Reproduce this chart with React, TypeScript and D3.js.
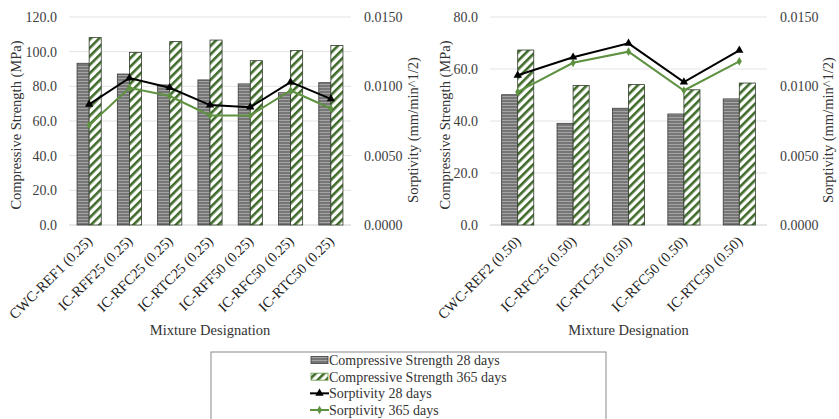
import React, { useEffect, useRef } from 'react'
import * as d3 from 'd3'

// left panel (w/c 0.25)
const catsA = ['CWC-REF1 (0.25)', 'IC-RFF25 (0.25)', 'IC-RFC25 (0.25)', 'IC-RTC25 (0.25)', 'IC-RFF50 (0.25)', 'IC-RFC50 (0.25)', 'IC-RTC50 (0.25)']
const cs28A = [93.3, 87.1, 80.8, 83.7, 81.4, 76.3, 82.1]
const cs365A = [108.1, 99.6, 105.8, 106.7, 94.8, 100.6, 103.6]
const sor28A = [0.0087, 0.0106, 0.0099, 0.00865, 0.0085, 0.0103, 0.0091]
const sor365A = [0.0072, 0.0099, 0.0093, 0.0079, 0.0079, 0.0097, 0.0084]
const ticksA = [0, 20, 40, 60, 80, 100, 120]

// right panel (w/c 0.50)
const catsB = ['CWC-REF2 (0.50)', 'IC-RFC25 (0.50)', 'IC-RTC25 (0.50)', 'IC-RFC50 (0.50)', 'IC-RTC50 (0.50)']
const cs28B = [50.1, 39.1, 44.9, 42.7, 48.5]
const cs365B = [67.3, 53.7, 54.0, 52.0, 54.6]
const sor28B = [0.0108, 0.0121, 0.0131, 0.0103, 0.0126]
const sor365B = [0.0096, 0.0117, 0.0125, 0.0097, 0.0118]
const ticksB = [0, 20, 40, 60, 80]

const sorTicks = [0, 0.005, 0.01, 0.015]
const legendItems = ['Compressive Strength 28 days', 'Compressive Strength 365 days', 'Sorptivity 28 days', 'Sorptivity 365 days']

const FONT = 'Liberation Serif, DejaVu Serif, serif'
const GREEN = '#5e9140'
const HATCH = '#3f6b2a'

function drawPanel(svg, o) {
  const g = svg.append('g')
  const x = d3.scaleBand().domain(o.cats).range([o.x0, o.x1]).paddingInner(o.pad).paddingOuter(o.pad / 2)
  const sub = d3.scaleBand().domain(['a', 'b']).range([0, x.bandwidth()])
  const y = d3.scaleLinear().domain([0, d3.max(o.ticks)]).range([225, 17])
  const y2 = d3.scaleLinear().domain([0, 0.015]).range([225, 17])

  // grid
  g.selectAll('.grid').data(o.ticks).join('line')
    .attr('x1', o.x0).attr('x2', o.x1)
    .attr('y1', d => y(d)).attr('y2', d => y(d))
    .attr('stroke', d => d === 0 ? '#cfcfcf' : '#e3e3e3').attr('stroke-width', 1)

  g.selectAll('.tl').data(o.ticks).join('text')
    .attr('x', o.x0 - 12).attr('y', d => y(d)).attr('dy', '0.35em')
    .attr('text-anchor', 'end').attr('font-size', 14).attr('fill', '#404040')
    .text(d => d.toFixed(1))

  g.selectAll('.tr').data(sorTicks).join('text')
    .attr('x', o.x1 + 13).attr('y', d => y2(d)).attr('dy', '0.35em')
    .attr('font-size', 14).attr('fill', '#404040')
    .text(d => d.toFixed(4))

  // bars
  g.selectAll('.b28').data(o.cs28).join('rect')
    .attr('x', (d, i) => x(o.cats[i]) + sub('a')).attr('width', sub.bandwidth())
    .attr('y', d => y(d)).attr('height', d => y(0) - y(d))
    .attr('fill', 'url(#hstripe)').attr('stroke', '#3a3a3a').attr('stroke-width', 0.8)
  g.selectAll('.b365').data(o.cs365).join('rect')
    .attr('x', (d, i) => x(o.cats[i]) + sub('b')).attr('width', sub.bandwidth())
    .attr('y', d => y(d)).attr('height', d => y(0) - y(d))
    .attr('fill', 'url(#dstripe)').attr('stroke', '#2f3a2a').attr('stroke-width', 0.8)

  const cx = i => x(o.cats[i]) + x.bandwidth() / 2
  const line = d3.line().x((d, i) => cx(i)).y(d => y2(d))

  g.append('path').datum(o.sor365).attr('d', line).attr('fill', 'none').attr('stroke', GREEN).attr('stroke-width', 2)
  g.selectAll('.m365').data(o.sor365).join('path')
    .attr('transform', (d, i) => `translate(${cx(i)},${y2(d)})`)
    .attr('d', d3.symbol(d3.symbolDiamond, 22)()).attr('fill', GREEN)

  g.append('path').datum(o.sor28).attr('d', line).attr('fill', 'none').attr('stroke', '#000').attr('stroke-width', 2)
  g.selectAll('.m28').data(o.sor28).join('path')
    .attr('transform', (d, i) => `translate(${cx(i)},${y2(d)})`)
    .attr('d', d3.symbol(d3.symbolTriangle, 30)()).attr('fill', '#000')

  // category labels
  g.selectAll('.cl').data(o.cats).join('text')
    .attr('transform', (d, i) => `translate(${cx(i) + 4},${242}) rotate(-45)`)
    .attr('text-anchor', 'end').attr('font-size', 14.5).attr('fill', '#222')
    .text(d => d)

  g.append('text').attr('x', (o.x0 + o.x1) / 2).attr('y', 330).attr('dy', '0.35em')
    .attr('text-anchor', 'middle').attr('font-size', 14.5).attr('fill', '#333')
    .text('Mixture Designation')

  g.append('text').attr('transform', `translate(${o.lt},125) rotate(-90)`)
    .attr('text-anchor', 'middle').attr('dy', '0.35em').attr('font-size', 14.5).attr('fill', '#333')
    .text('Compressive Strength (MPa)')
  g.append('text').attr('transform', `translate(${o.rt},130) rotate(-90)`)
    .attr('text-anchor', 'middle').attr('dy', '0.35em').attr('font-size', 14.5).attr('fill', '#333')
    .text('Sorptivity (mm/min^1/2)')
}

function App() {
  const svgRef = useRef(null)

  useEffect(() => {
    const svg = d3.select(svgRef.current)
    svg.selectAll('*').remove()

    const defs = svg.append('defs')
    const hp = defs.append('pattern').attr('id', 'hstripe').attr('patternUnits', 'userSpaceOnUse')
      .attr('width', 4).attr('height', 3)
    hp.append('rect').attr('width', 4).attr('height', 3).attr('fill', '#767676')
    hp.append('rect').attr('width', 4).attr('height', 1).attr('fill', '#a4a4a4')

    const dp = defs.append('pattern').attr('id', 'dstripe').attr('patternUnits', 'userSpaceOnUse')
      .attr('width', 6).attr('height', 6).attr('patternTransform', 'rotate(45)')
    dp.append('rect').attr('width', 6).attr('height', 6).attr('fill', '#fff')
    dp.append('rect').attr('width', 2.6).attr('height', 6).attr('fill', HATCH)

    drawPanel(svg, { cats: catsA, cs28: cs28A, cs365: cs365A, sor28: sor28A, sor365: sor365A, ticks: ticksA, x0: 69, x1: 351, pad: 0.4, lt: 16, rt: 413 })
    drawPanel(svg, { cats: catsB, cs28: cs28B, cs365: cs365B, sor28: sor28B, sor365: sor365B, ticks: ticksB, x0: 490, x1: 767, pad: 0.42, lt: 445, rt: 828 })

    // legend
    const lg = svg.append('g')
    lg.append('rect').attr('x', 211).attr('y', 352).attr('width', 395).attr('height', 80)
      .attr('fill', '#fff').attr('stroke', '#8a8a8a').attr('stroke-width', 1)
    const ly = d3.scalePoint().domain(legendItems).range([360, 410])
    legendItems.forEach((t, i) => {
      const yy = ly(t)
      if (i < 2) {
        lg.append('rect').attr('x', 311).attr('y', yy - 3.5).attr('width', 17).attr('height', 7)
          .attr('fill', i === 0 ? 'url(#hstripe)' : 'url(#dstripe)').attr('stroke', i === 0 ? '#3a3a3a' : GREEN).attr('stroke-width', 0.8)
      } else {
        const c = i === 2 ? '#000' : GREEN
        lg.append('line').attr('x1', 310).attr('x2', 329).attr('y1', yy).attr('y2', yy).attr('stroke', c).attr('stroke-width', 2)
        lg.append('path').attr('transform', `translate(319.5,${yy})`)
          .attr('d', d3.symbol(i === 2 ? d3.symbolTriangle : d3.symbolDiamond, i === 2 ? 30 : 22)()).attr('fill', c)
      }
      lg.append('text').attr('x', 329).attr('y', yy).attr('dy', '0.35em')
        .attr('font-size', 14).attr('fill', '#333').text(t)
    })
  }, [])

  return (
    <svg ref={svgRef} width={839} height={419} style={{ position: 'absolute', left: 0, top: 0, background: '#fff', fontFamily: FONT }}></svg>
  )
}
export default App
